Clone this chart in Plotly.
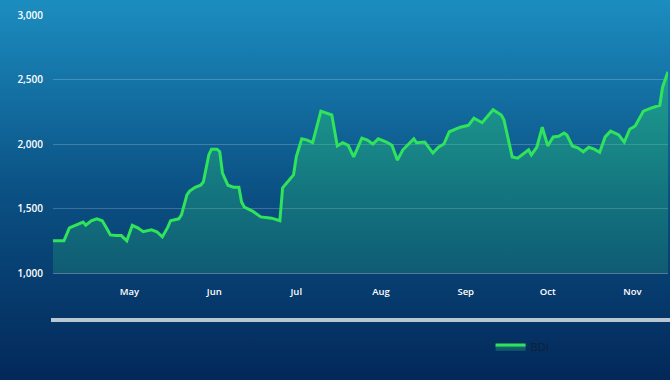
import base64
import plotly.graph_objects as go

dates = ["2023-04-03", "2023-04-07", "2023-04-09", "2023-04-12", "2023-04-14", "2023-04-15",
         "2023-04-17", "2023-04-19", "2023-04-21", "2023-04-22", "2023-04-24", "2023-04-26",
         "2023-04-28", "2023-04-30", "2023-05-02", "2023-05-04", "2023-05-06", "2023-05-09",
         "2023-05-11", "2023-05-13", "2023-05-15", "2023-05-16", "2023-05-19", "2023-05-20",
         "2023-05-22", "2023-05-23", "2023-05-25", "2023-05-27", "2023-05-28", "2023-05-30",
         "2023-05-31", "2023-06-02", "2023-06-03", "2023-06-04", "2023-06-06", "2023-06-08",
         "2023-06-10", "2023-06-11", "2023-06-12", "2023-06-15", "2023-06-18", "2023-06-22",
         "2023-06-25", "2023-06-26", "2023-06-30", "2023-07-01", "2023-07-03", "2023-07-05",
         "2023-07-07", "2023-07-10", "2023-07-12", "2023-07-14", "2023-07-16", "2023-07-18",
         "2023-07-20", "2023-07-22", "2023-07-25", "2023-07-27", "2023-07-29", "2023-07-31",
         "2023-08-03", "2023-08-05", "2023-08-07", "2023-08-09", "2023-08-13", "2023-08-14",
         "2023-08-17", "2023-08-20", "2023-08-22", "2023-08-24", "2023-08-26", "2023-08-30",
         "2023-09-02", "2023-09-04", "2023-09-07", "2023-09-11", "2023-09-14", "2023-09-15",
         "2023-09-18", "2023-09-20", "2023-09-24", "2023-09-25", "2023-09-27", "2023-09-29",
         "2023-10-01", "2023-10-03", "2023-10-05", "2023-10-07", "2023-10-08", "2023-10-10",
         "2023-10-12", "2023-10-14", "2023-10-16", "2023-10-18", "2023-10-20", "2023-10-22",
         "2023-10-24", "2023-10-27", "2023-10-29", "2023-10-31", "2023-11-02", "2023-11-05",
         "2023-11-08", "2023-11-11", "2023-11-12", "2023-11-14"]

bdi = [1250, 1250, 1350, 1380, 1395, 1370,
       1405, 1420, 1405, 1370, 1295, 1290,
       1290, 1250, 1370, 1350, 1320, 1335,
       1320, 1280, 1355, 1405, 1420, 1450,
       1605, 1635, 1665, 1680, 1705, 1915,
       1960, 1960, 1940, 1775, 1680, 1665,
       1665, 1550, 1510, 1480, 1435, 1425,
       1405, 1660, 1760, 1900, 2040, 2030,
       2010, 2255, 2240, 2225, 1985, 2010,
       1990, 1900, 2045, 2030, 2000, 2040,
       2015, 1990, 1875, 1955, 2040, 2010,
       2015, 1930, 1975, 2000, 2095, 2130,
       2145, 2200, 2165, 2265, 2225, 2185,
       1900, 1890, 1955, 1915, 1975, 2130,
       1985, 2055, 2060, 2085, 2070, 1985,
       1970, 1940, 1975, 1960, 1935, 2055,
       2100, 2070, 2015, 2115, 2140, 2255,
       2280, 2300, 2440, 2560]

y_ticks = [1000, 1500, 2000, 2500, 3000]
series_name = "BDI"

W, H = 670, 380
ML, MR, MT, MB = 53, 2, 15, 107
PW, PH = W - ML - MR, H - MT - MB

svg = (
    '<svg xmlns="http://www.w3.org/2000/svg" width="670" height="380" preserveAspectRatio="none">'
    '<defs><linearGradient id="g" x1="0" y1="0" x2="0" y2="1">'
    '<stop offset="0" stop-color="#1c8dc0"/>'
    '<stop offset="0.5" stop-color="#0b5184"/>'
    '<stop offset="1" stop-color="#03285a"/>'
    '</linearGradient></defs>'
    '<rect width="670" height="380" fill="url(#g)"/></svg>'
)
bg_src = "data:image/svg+xml;base64," + base64.b64encode(svg.encode()).decode()

fig = go.Figure()
fig.add_trace(go.Scatter(
    x=dates, y=bdi, name=series_name, mode="lines",
    line=dict(color="#2fe35a", width=3),
    fill="tozeroy",
    fillgradient=dict(type="vertical", start=1000, stop=2600,
                      colorscale=[[0, "rgba(40,190,120,0.22)"], [1, "rgba(40,210,110,0.45)"]]),
))

fig.add_layout_image(dict(
    source=bg_src, xref="paper", yref="paper",
    x=-ML / PW, y=1 + MT / PH, sizex=W / PW, sizey=H / PH,
    xanchor="left", yanchor="top", sizing="stretch", layer="below",
))

# scrollbar decoration
sb_y = -(320 - (H - MB)) / PH
fig.add_shape(type="line", xref="paper", yref="paper",
              x0=-2 / PW, x1=1 + MR / PW, y0=sb_y, y1=sb_y,
              line=dict(color="#b9c6d3", width=4))

fig.update_layout(
    width=W, height=H,
    margin=dict(l=ML, r=MR, t=MT, b=MB, pad=0),
    paper_bgcolor="#0b5184", plot_bgcolor="rgba(0,0,0,0)",
    font=dict(family="Open Sans", color="white", size=10),
    showlegend=True,
    legend=dict(orientation="h", x=0.7115, y=-0.287, xanchor="left", yanchor="middle",
                bgcolor="rgba(0,0,0,0)", font=dict(color="#0e2038", size=11, family="Open Sans")),
    xaxis=dict(type="date", range=[dates[0], dates[-1]], dtick="M1", tickformat="%b",
               showgrid=False, zeroline=False, ticks="",
               showline=True, linecolor="rgba(255,255,255,0.3)", linewidth=1,
               tickfont=dict(size=9.5, color="white", weight=600), ticklabelstandoff=10),
    yaxis=dict(range=[1000, 3000], tickvals=y_ticks, tickformat=",",
               showgrid=True, gridcolor="rgba(255,255,255,0.2)", gridwidth=1,
               zeroline=False, showline=False, ticks="",
               tickfont=dict(size=10, color="white", weight=600), ticklabelstandoff=9),
)

fig.write_html("out.html", config={"displayModeBar": False},
               post_script="document.body.style.margin='0';")
